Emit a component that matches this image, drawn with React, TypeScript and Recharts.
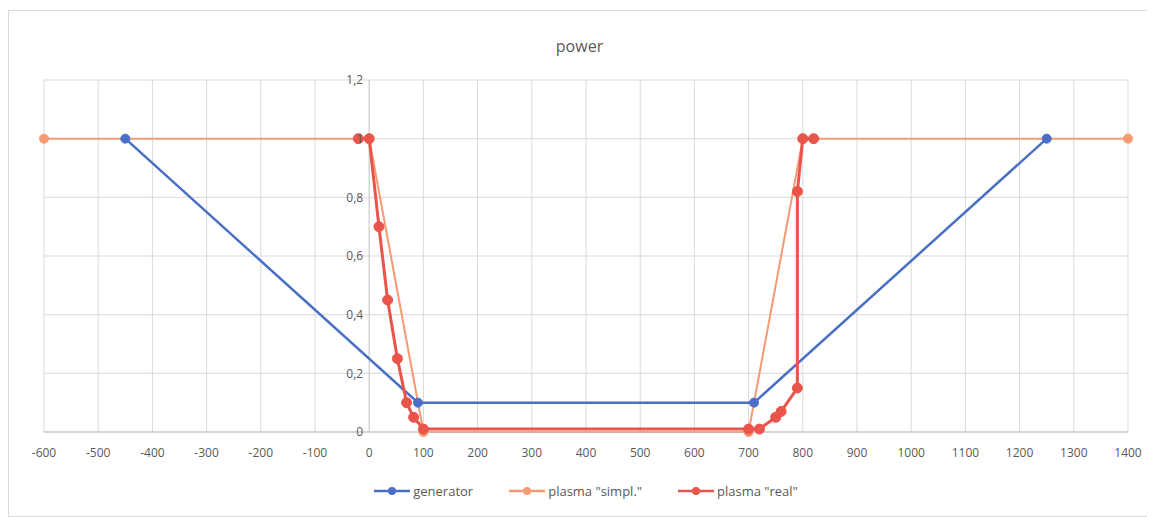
import React from "react";
import {
  LineChart, Line, XAxis, YAxis, CartesianGrid, ReferenceLine, ReferenceDot, Legend,
} from "recharts";

// values
const generatorX = [-450, 90, 710, 1250];
const generatorY = [1, 0.1, 0.1, 1];
const simplX = [-600, 0, 100, 700, 800, 1400];
const simplY = [1, 1, 0, 0, 1, 1];
const realX = [-20, 0, 18, 34, 52, 69, 82, 100, 700, 720, 750, 760, 790, 790, 800, 820];
const realY = [1, 1, 0.7, 0.45, 0.25, 0.1, 0.05, 0.01, 0.01, 0.01, 0.05, 0.07, 0.15, 0.82, 1, 1];
const xTicks = [-600, -500, -400, -300, -200, -100, 0, 100, 200, 300, 400, 500, 600, 700, 800, 900, 1000, 1100, 1200, 1300, 1400];
const yTicks = [0, 0.2, 0.4, 0.6, 0.8, 1, 1.2];

const zip = (xs: number[], ys: number[]) => xs.map((x, i) => ({ x, y: ys[i] }));

const series = [
  { name: "generator", color: "#4a6fc7", width: 2.5, r: 4.5, data: zip(generatorX, generatorY) },
  { name: 'plasma "simpl."', color: "#f59a72", width: 2, r: 4.5, data: zip(simplX, simplY) },
  { name: 'plasma "real"', color: "#e9544b", width: 3, r: 5, data: zip(realX, realY) },
];

const fmt = (v: number) => String(Math.round(v * 10) / 10).replace(".", ",");
const FONT = "'Open Sans', 'Liberation Sans', sans-serif";

function LegendBox() {
  return (
    <div style={{ display: "flex", justifyContent: "center", gap: 36, fontFamily: FONT, fontSize: 13, color: "#595959" }}>
      {series.map((s) => (
        <div key={s.name} style={{ display: "flex", alignItems: "center" }}>
          <svg width={36} height={10} style={{ marginRight: 3 }}>
            <line x1={0} y1={5} x2={36} y2={5} stroke={s.color} strokeWidth={2.5} />
            <circle cx={18} cy={5} r={4} fill={s.color} />
          </svg>
          {s.name}
        </div>
      ))}
    </div>
  );
}

export default function App() {
  return (
    <div style={{ position: "relative", width: 1141, height: 505, marginTop: 2, border: "1px solid #d9d9d9", background: "#fff" }}>
      <div style={{ position: "absolute", top: 24, width: "100%", textAlign: "center", fontFamily: FONT, fontSize: 16, color: "#595959" }}>
        power
      </div>
      <LineChart width={1141} height={505} margin={{ top: 69, right: 22, bottom: 36, left: 35 }}>
        <CartesianGrid stroke="#d9d9d9" strokeWidth={1} />
        <XAxis
          type="number"
          dataKey="x"
          domain={[-600, 1400]}
          ticks={xTicks}
          interval={0}
          allowDuplicatedCategory={false}
          axisLine={{ stroke: "#bfbfbf" }}
          tickLine={false}
          tick={{ fill: "#595959", fontSize: 12, fontFamily: FONT }}
          tickMargin={10}
          height={30}
        />
        <YAxis type="number" dataKey="y" domain={[0, 1.2]} ticks={yTicks} hide />
        <ReferenceLine x={0} stroke="#cfcfcf" />
        {yTicks.map((v) => (
          <ReferenceDot
            key={v}
            x={0}
            y={v}
            r={0}
            stroke="none"
            fill="none"
            label={{ value: fmt(v), position: "left", offset: 6, fill: "#595959", fontSize: 12, fontFamily: FONT }}
          />
        ))}
        {series.map((s) => (
          <Line
            key={s.name}
            data={s.data}
            dataKey="y"
            name={s.name}
            type="linear"
            stroke={s.color}
            strokeWidth={s.width}
            dot={{ r: s.r, fill: s.color, stroke: s.color, strokeWidth: 1 }}
            activeDot={false}
            isAnimationActive={false}
          />
        ))}
        <Legend content={<LegendBox />} verticalAlign="bottom" wrapperStyle={{ bottom: 16 }} />
      </LineChart>
    </div>
  );
}
